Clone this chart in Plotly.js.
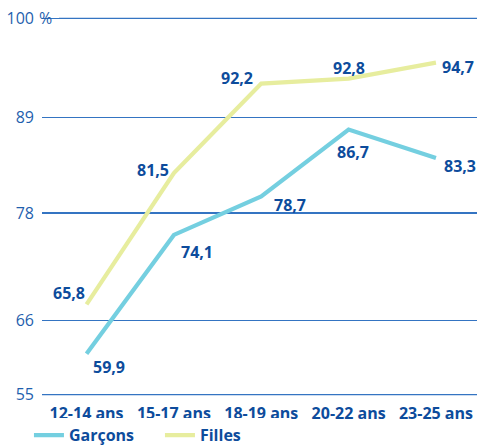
<!DOCTYPE html>
<html><head><meta charset="utf-8">
<script src="https://cdn.plot.ly/plotly-3.0.1.min.js"></script>
<style>html,body{margin:0;padding:0;background:#fff}#chart{width:478px;height:445px}</style>
</head><body><div id="chart"></div>
<script>
// ---- data ----
const ageGroups = ['12-14 ans', '15-17 ans', '18-19 ans', '20-22 ans', '23-25 ans'];
const garcons = [59.9, 74.1, 78.7, 86.7, 83.3];
const filles = [65.8, 81.5, 92.2, 92.8, 94.7];
const seriesNames = ['Garçons', 'Filles'];
const yTickLabels = ['55', '66', '78', '89', '100'];
const yTickValues = [55, 63.9, 76.7, 88.15, 100];

// ---- styling ----
const darkBlue = '#0d4c9c';
const tickBlue = '#1f5fae';
const gridBlue = '#3474c2';
const cyan = '#74cfe0';
const yellow = '#e7ed9e';
// label placement: [xanchor, xshift, yshift]
const garconsLabelPlace = [['left', 4, -13], ['left', 5, -17], ['left', 11, -9], ['center', 4, -22], ['left', 6, -8]];
const fillesLabelPlace = [['right', 0, 11], ['right', -3, 3], ['right', -6, 6], ['center', 0, 11], ['left', 4, -4]];

const fmt = v => v.toFixed(1).replace('.', ',');

function labels(vals, place) {
  return vals.map((v, i) => ({
    x: ageGroups[i], y: v, xref: 'x', yref: 'y',
    text: '<b>' + fmt(v) + '</b>', showarrow: false,
    xanchor: place[i][0], yanchor: 'middle',
    xshift: place[i][1], yshift: place[i][2],
    font: {family: 'Open Sans', size: 16, color: darkBlue}
  }));
}

const traces = [
  {x: ageGroups, y: garcons, name: seriesNames[0], type: 'scatter', mode: 'lines',
   line: {color: cyan, width: 4.2}},
  {x: ageGroups, y: filles, name: seriesNames[1], type: 'scatter', mode: 'lines',
   line: {color: yellow, width: 4.2}}
];

const annotations = labels(garcons, garconsLabelPlace).concat(labels(filles, fillesLabelPlace));
annotations.push({
  xref: 'paper', yref: 'y', x: -0.012, y: yTickValues[4], xanchor: 'left', yanchor: 'middle',
  text: '%', showarrow: false,
  font: {family: 'Open Sans', size: 16, color: tickBlue}
});

// edge grid lines (bottom and top ticks) drawn as shapes
const shapes = [
  {type: 'line', xref: 'paper', yref: 'y', x0: 0, x1: 1, y0: yTickValues[0], y1: yTickValues[0],
   line: {color: gridBlue, width: 1.4}, layer: 'below'},
  {type: 'line', xref: 'paper', yref: 'y', x0: 0.039, x1: 1, y0: yTickValues[4], y1: yTickValues[4],
   line: {color: gridBlue, width: 1.4}, layer: 'below'}
];

const layout = {
  width: 478, height: 445,
  margin: {l: 42, r: 1, t: 14.65, b: 47.35, autoexpand: false},
  paper_bgcolor: '#ffffff', plot_bgcolor: '#ffffff',
  showlegend: true,
  legend: {orientation: 'h', x: -0.03, xanchor: 'left', y: -0.097, yanchor: 'middle',
    font: {family: 'Open Sans', size: 16, color: darkBlue, weight: 'bold'},
    itemwidth: 30, entrywidth: 86, traceorder: 'normal'},
  xaxis: {type: 'category', range: [-0.51, 4.47], showgrid: false, zeroline: false, showline: false,
    ticks: '', ticklabelstandoff: 4, automargin: false,
    tickfont: {family: 'Open Sans', size: 16, color: darkBlue, weight: 'bold'}},
  yaxis: {range: [54.6, 100.4], tickmode: 'array', tickvals: yTickValues, ticktext: yTickLabels,
    showgrid: true, gridcolor: gridBlue, gridwidth: 1.4, zeroline: false, showline: false,
    ticks: '', ticklabelstandoff: 7, automargin: false,
    tickfont: {family: 'Open Sans', size: 16, color: tickBlue}},
  shapes: shapes,
  annotations: annotations
};

Plotly.newPlot('chart', traces, layout, {displayModeBar: false, staticPlot: true});
</script>
</body></html>
